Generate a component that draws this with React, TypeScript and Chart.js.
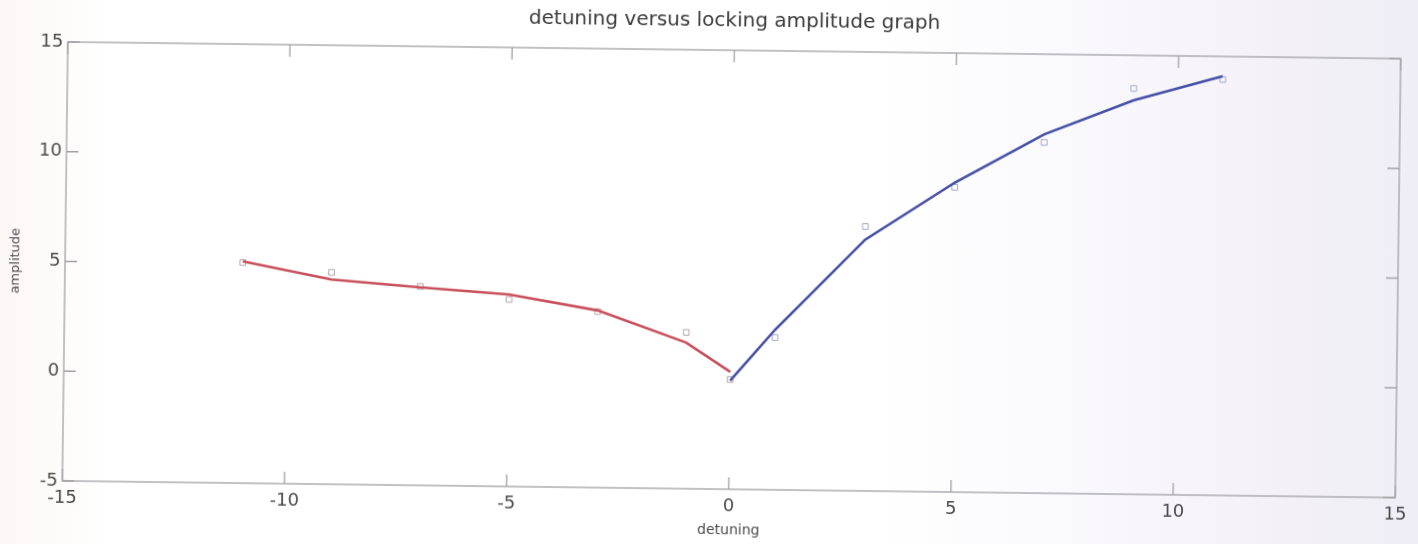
import React, { useEffect, useRef } from "react";
import { Chart, registerables } from "chart.js";

Chart.register(...registerables);

// Fitted curve (red: negative detuning, blue: positive detuning)
const redLineX = [-11, -9, -7, -5, -3, -1, 0];
const redLineY = [5.1, 4.33, 4.02, 3.75, 3.07, 1.66, 0.35];
const blueLineX = [0, 1, 3, 5, 7, 9, 11];
const blueLineY = [-0.05, 2.3, 6.45, 9.1, 11.35, 12.95, 14.1];

// Measured points (square markers)
const redPointX = [-11, -9, -7, -5, -3, -1, 0];
const redPointY = [5.05, 4.65, 4.06, 3.52, 3.02, 2.12, 0.0];
const bluePointX = [1, 3, 5, 7, 9, 11];
const bluePointY = [1.94, 7.05, 8.88, 10.98, 13.49, 13.95];

const xTicks = [-15, -10, -5, 0, 5, 10, 15];
const yTicks = [-5, 0, 5, 10, 15];

const titleText = "detuning versus locking amplitude graph";
const xLabel = "detuning";
const yLabel = "amplitude";

const FONT = "'DejaVu Sans', Verdana, sans-serif";

const pts = (xs: number[], ys: number[]) => xs.map((x, i) => ({ x, y: ys[i] }));

const boxPlugin = {
  id: "matlabBox",
  afterDraw(chart: any) {
    const { ctx, chartArea } = chart;
    const { left, right, top, bottom } = chartArea;
    const xs = chart.scales.x;
    const ys = chart.scales.y;
    ctx.save();
    ctx.strokeStyle = "#a2a2a6";
    ctx.lineWidth = 1.3;
    ctx.strokeRect(left, top, right - left, bottom - top);
    ctx.beginPath();
    const t = 12;
    xTicks.forEach((v) => {
      const px = xs.getPixelForValue(v);
      ctx.moveTo(px, bottom);
      ctx.lineTo(px, bottom - t);
      ctx.moveTo(px, top);
      ctx.lineTo(px, top + t);
    });
    yTicks.forEach((v) => {
      const py = ys.getPixelForValue(v);
      ctx.moveTo(left, py);
      ctx.lineTo(left + t, py);
      ctx.moveTo(right, py);
      ctx.lineTo(right - t, py);
    });
    ctx.stroke();
    ctx.restore();
  },
};

export default function App() {
  const ref = useRef<HTMLCanvasElement | null>(null);
  useEffect(() => {
    if (!ref.current) return;
    const chart = new Chart(ref.current, {
      type: "scatter",
      data: {
        datasets: [
          {
            label: "red fit",
            data: pts(redLineX, redLineY),
            showLine: true,
            borderColor: "#c8505c",
            borderWidth: 2.6,
            pointRadius: 0,
            tension: 0,
          },
          {
            label: "blue fit",
            data: pts(blueLineX, blueLineY),
            showLine: true,
            borderColor: "#4650a6",
            borderWidth: 2.6,
            pointRadius: 0,
            tension: 0,
          },
          {
            label: "red points",
            data: pts(redPointX, redPointY),
            showLine: false,
            pointStyle: "rect",
            pointRadius: 4,
            borderWidth: 1,
            borderColor: "#b8a4a8",
            backgroundColor: "rgba(0,0,0,0)",
          },
          {
            label: "blue points",
            data: pts(bluePointX, bluePointY),
            showLine: false,
            pointStyle: "rect",
            pointRadius: 4,
            borderWidth: 1,
            borderColor: "#a2aacb",
            backgroundColor: "rgba(0,0,0,0)",
          },
        ],
      },
      plugins: [boxPlugin],
      options: {
        animation: false,
        responsive: false,
        layout: { padding: { left: 0, right: 20, top: 0, bottom: 0 } },
        plugins: {
          legend: { display: false },
          tooltip: { enabled: false },
          title: {
            display: true,
            text: titleText,
            fullSize: false,
            color: "#3a3a3a",
            font: { family: FONT, size: 20, weight: "normal" },
            padding: { top: 9, bottom: 17 },
          },
        },
        scales: {
          x: {
            type: "linear",
            min: -15,
            max: 15,
            afterFit: (s: any) => {
              s.height = 55;
            },
            afterBuildTicks: (s: any) => {
              s.ticks = xTicks.map((v) => ({ value: v }));
            },
            ticks: {
              color: "#4a4a4a",
              font: { family: FONT, size: 18 },
              padding: 7,
              maxRotation: 0,
            },
            grid: { display: false, drawTicks: false },
            border: { display: false },
            title: {
              display: true,
              text: xLabel,
              color: "#4a4a4a",
              font: { family: FONT, size: 14 },
              padding: { top: 0, bottom: 5.6 },
            },
          },
          y: {
            type: "linear",
            min: -5,
            max: 15,
            afterFit: (s: any) => {
              s.width = 65;
            },
            afterBuildTicks: (s: any) => {
              s.ticks = yTicks.map((v) => ({ value: v }));
            },
            ticks: {
              color: "#4a4a4a",
              font: { family: FONT, size: 18 },
              padding: 4.5,
            },
            grid: { display: false, drawTicks: false },
            border: { display: false },
            title: {
              display: true,
              text: yLabel,
              color: "#4a4a4a",
              font: { family: FONT, size: 13 },
              padding: { top: 8.2, bottom: 0 },
            },
          },
        },
      },
    } as any);
    return () => chart.destroy();
  }, []);
  return (
    <div
      style={{
        position: "fixed",
        left: 0,
        top: 0,
        width: 1418,
        height: 544,
        overflow: "hidden",
        background:
          "linear-gradient(90deg, #fbf8f6 0%, #ffffff 8%, #ffffff 62%, #f6f4f9 85%, #efedf5 100%)",
      }}
    >
      <canvas
        ref={ref}
        width={1418}
        height={544}
        style={{ display: "block", transform: "rotate(0.72deg)", transformOrigin: "709px 272px" }}
      />
    </div>
  );
}
